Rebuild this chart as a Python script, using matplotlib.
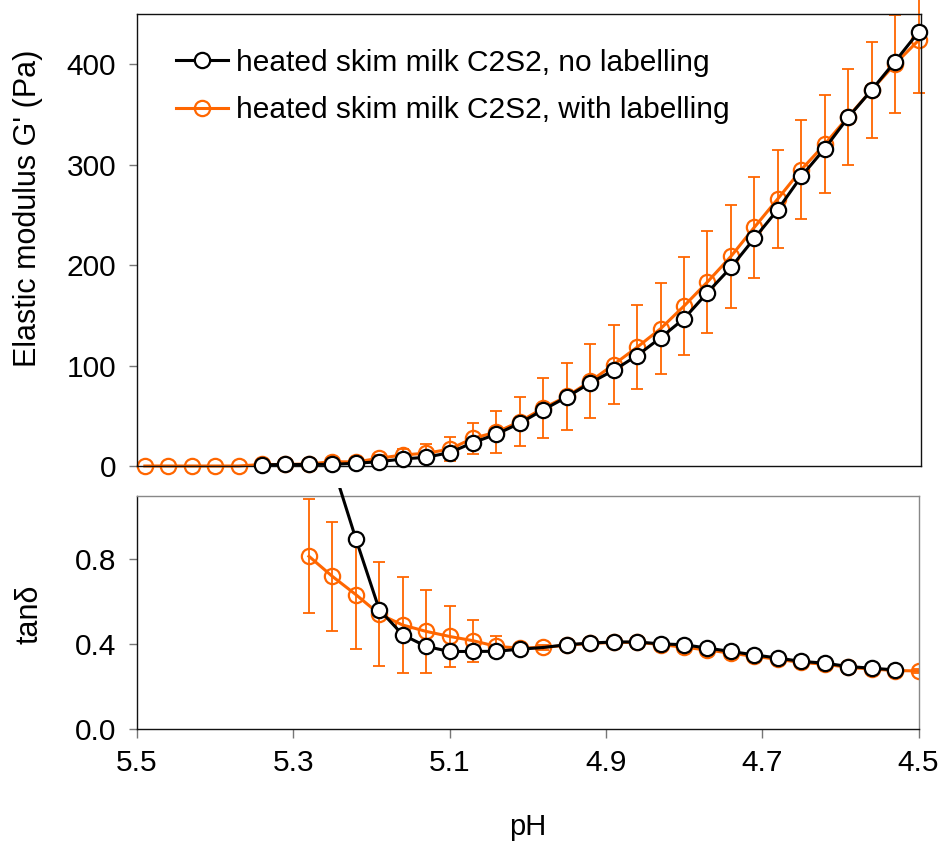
"""G' and tan(delta) vs pH for heated skim milk C2S2, with and without labelling."""

import matplotlib

matplotlib.use("Agg")
import matplotlib.pyplot as plt
import numpy as np
from matplotlib.transforms import Bbox, TransformedBbox

ORANGE = "#FF6600"
GREY = "#777777"

# pH steps of 0.03 from 5.49 down to 4.50 (34 points)
ph = np.array([
    5.49, 5.46, 5.43, 5.40, 5.37, 5.34, 5.31, 5.28, 5.25, 5.22, 5.19, 5.16,
    5.13, 5.10, 5.07, 5.04, 5.01, 4.98, 4.95, 4.92, 4.89, 4.86, 4.83, 4.80,
    4.77, 4.74, 4.71, 4.68, 4.65, 4.62, 4.59, 4.56, 4.53, 4.50,
])

nan = np.nan

# elastic modulus G' (Pa)
g_no_label = np.array([
    nan, nan, nan, nan, nan, 1.2, 1.5, 1.5, 1.7, 2.7, 4.3, 7.0,
    8.7, 13.3, 23.3, 31.7, 42.7, 56.0, 68.7, 82.7, 95.3, 110.0, 127.7, 146.7,
    172.7, 197.7, 226.7, 255.3, 288.3, 316.0, 347.0, 374.3, 402.7, 432.0,
])
g_label = np.array([
    0.0, 0.0, 0.0, 0.0, 0.0, 1.5, 1.5, 2.0, 4.3, 4.0, 7.7, 11.0,
    12.7, 16.7, 27.7, 33.7, 44.3, 57.7, 69.3, 84.3, 101.0, 118.3, 136.7, 159.3,
    183.3, 208.7, 237.7, 266.0, 295.0, 320.3, 347.7, 374.3, 400.3, 423.7,
])
g_label_err = np.array([
    0, 0, 0, 0, 0, 0, 0, 0, 0, 0, 3.0, 5.5,
    9.5, 12.0, 15.5, 21.0, 24.7, 30.0, 33.5, 36.7, 39.0, 41.5, 45.0, 48.7,
    51.0, 51.3, 50.3, 48.5, 49.0, 48.7, 47.7, 47.5, 48.7, 52.0,
])

# loss tangent tan(delta)
tan_no_label = np.array([
    nan, nan, nan, nan, nan, nan, nan, nan, 1.25, 0.898, 0.563, 0.444,
    0.389, 0.365, 0.365, 0.366, 0.376, 0.384, 0.397, 0.405, 0.410, 0.410, 0.401, 0.397,
    0.381, 0.365, 0.349, 0.334, 0.318, 0.310, 0.294, 0.286, 0.278, nan,
])
tan_label = np.array([
    nan, nan, nan, nan, nan, nan, nan, 0.815, 0.720, 0.634, 0.542, 0.490,
    0.460, 0.436, 0.416, 0.389, 0.381, 0.384, 0.395, 0.403, 0.408, 0.408, 0.398, 0.385,
    0.372, 0.357, 0.342, 0.328, 0.313, 0.305, 0.290, 0.282, 0.275, 0.273,
])
tan_label_err = np.array([
    0, 0, 0, 0, 0, 0, 0, 0.270, 0.257, 0.256, 0.247, 0.228,
    0.195, 0.143, 0.100, 0.050, 0.015, 0.010, 0.010, 0.010, 0.010, 0.010, 0.012, 0.015,
    0.015, 0.015, 0.015, 0.012, 0.010, 0.010, 0.010, 0.010, 0.010, 0.010,
])

labels = ["heated skim milk C2S2, no labelling", "heated skim milk C2S2, with labelling"]

plt.rcParams["font.family"] = ["Liberation Sans", "DejaVu Sans"]
plt.rcParams["font.size"] = 21


def style_axes(ax, frame_color) -> None:
    for side in ("left", "bottom"):
        ax.spines[side].set_color("#111111")
    for side in ("top", "right"):
        ax.spines[side].set_color(frame_color)
    for spine in ax.spines.values():
        spine.set_linewidth(1.0)
    ax.tick_params(direction="out", width=1.0, color=GREY, labelsize=21.5)
    ax.tick_params(axis="y", length=6, pad=9)
    ax.tick_params(axis="x", length=6.5, pad=8)


def draw_series(ax, values, errors, clip=True):
    mask = errors > 0
    eb = ax.errorbar(ph[mask], values[mask], yerr=errors[mask], fmt="none",
                     ecolor=ORANGE, elinewidth=1.3, capsize=4.3, capthick=1.3, zorder=2)
    for artist in eb.lines[1] + eb.lines[2]:
        artist.set_clip_on(clip)
    line, = ax.plot(ph, values, "-o", color=ORANGE, lw=2.2, ms=11, mfc="none",
                    mec=ORANGE, mew=1.6, zorder=2, clip_on=clip)
    return line


fig = plt.figure(figsize=(9.44, 8.43), dpi=100)
ax_g = fig.add_axes([137 / 944, 1 - 466 / 843, 784 / 944, 452 / 843])
ax_t = fig.add_axes([137 / 944, 1 - 728.7 / 843, 781.5 / 944, 232.7 / 843])

# top panel: G'
orange_g = draw_series(ax_g, g_label, g_label_err, clip=False)
black_g, = ax_g.plot(ph, g_no_label, "-o", color="#000000", lw=2.2, ms=11, mfc="white",
                     mec="#000000", mew=1.6, zorder=3, clip_on=False)
ax_g.set_xlim(5.5, 5.5 - 784 / 781.5)
ax_g.set_ylim(0, 450)
ax_g.set_yticks([0, 100, 200, 300, 400])
ax_g.set_xticks([])
ax_g.set_ylabel("Elastic modulus G' (Pa)", fontsize=22)
ax_g.yaxis.set_label_coords(-0.12, 0.57)
style_axes(ax_g, "#111111")
ax_g.legend([black_g, orange_g], labels, loc="upper left", bbox_to_anchor=(0.05, 0.923),
            frameon=False, numpoints=1, handlelength=1.75, handletextpad=0.25,
            labelspacing=0.65, borderpad=0, borderaxespad=0, fontsize=21.5)

# bottom panel: tan delta
draw_series(ax_t, tan_label, tan_label_err)
marks = [i for i in range(len(ph)) if ph[i] != 4.98]
black_t, = ax_t.plot(ph, tan_no_label, "-o", color="#000000", lw=2.2, ms=11, mfc="white",
                     mec="#000000", mew=1.6, zorder=3, markevery=marks)
# the black curve runs a little past the top of the frame, as in the original
black_t.set_clip_box(TransformedBbox(Bbox([[0, 0], [1, 1.034]]), ax_t.transAxes))
ax_t.set_xlim(5.5, 4.5)
ax_t.set_ylim(0, 1.1)
ax_t.set_yticks([0.0, 0.4, 0.8])
ax_t.set_yticklabels(["0.0", "0.4", "0.8"])
ax_t.set_xticks([5.5, 5.3, 5.1, 4.9, 4.7, 4.5])
ax_t.set_xticklabels(["5.5", "5.3", "5.1", "4.9", "4.7", "4.5"])
ax_t.set_ylabel("tanδ", fontsize=22)
ax_t.yaxis.set_label_coords(-0.118, 0.49)
ax_t.set_xlabel("pH", labelpad=26)
style_axes(ax_t, "#888888")

fig.savefig("out.png", dpi=100)
